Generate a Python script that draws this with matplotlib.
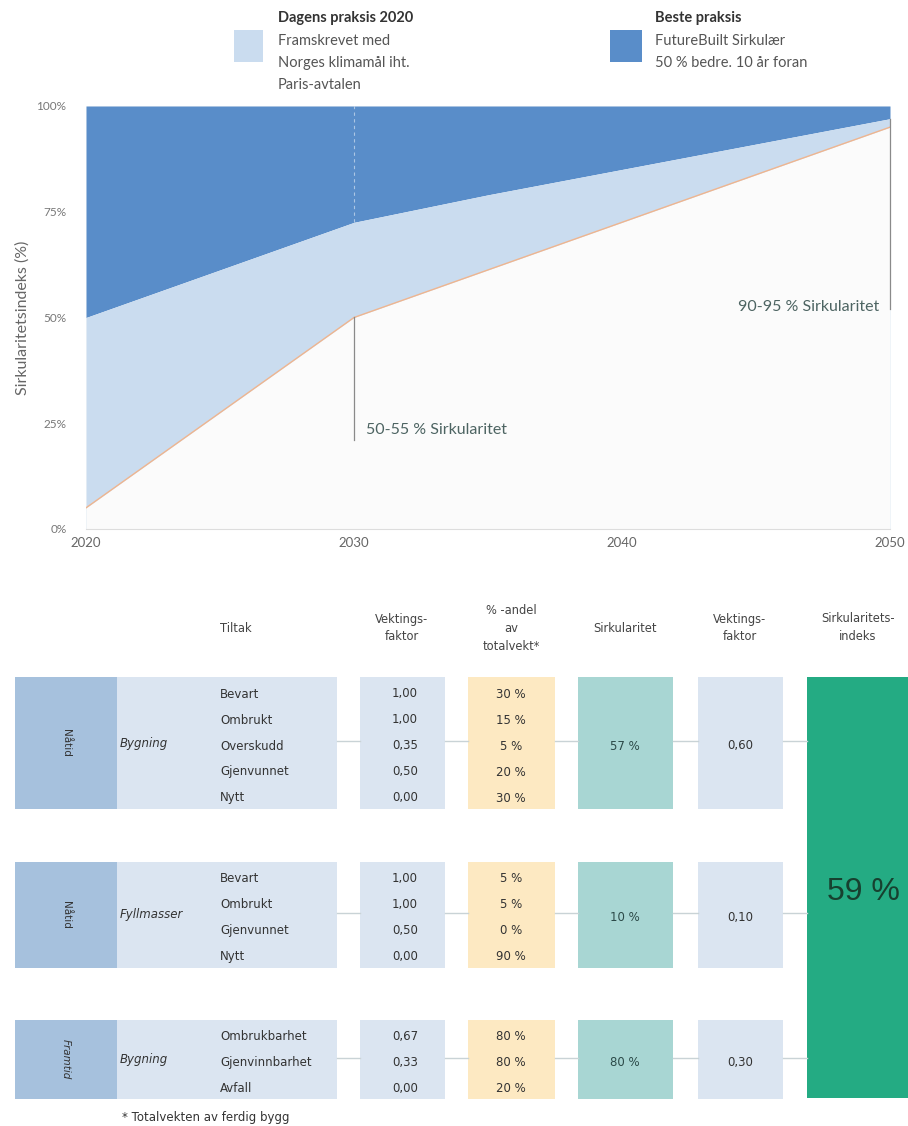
import matplotlib
matplotlib.use("Agg")
import matplotlib.pyplot as plt
from matplotlib.patches import Rectangle

# ---------------- data ----------------
years_best = [2020, 2030, 2035, 2040, 2045, 2050]
best_practice = [50, 72.5, 79, 85, 91, 97]
years_paris = [2020, 2030, 2050]
paris_path = [5, 50, 95]
x_ticks = [2020, 2030, 2040, 2050]
y_ticks = [0, 25, 50, 75, 100]
y_tick_labels = ["0%", "25%", "50%", "75%", "100%"]

period_labels = ["Nåtid", "Nåtid", "Framtid"]
group_labels = ["Bygning", "Fyllmasser", "Bygning"]
measures = [["Bevart", "Ombrukt", "Overskudd", "Gjenvunnet", "Nytt"],
            ["Bevart", "Ombrukt", "Gjenvunnet", "Nytt"],
            ["Ombrukbarhet", "Gjenvinnbarhet", "Avfall"]]
weight_factors = [[1.00, 1.00, 0.35, 0.50, 0.00],
                  [1.00, 1.00, 0.50, 0.00],
                  [0.67, 0.33, 0.00]]
shares = [[30, 15, 5, 20, 30],
          [5, 5, 0, 90],
          [80, 80, 20]]
circularity = [57, 10, 80]
group_weights = [0.60, 0.10, 0.30]
index_total = 59
headers = ["Tiltak", "Vektings-\nfaktor", "% -andel\nav\ntotalvekt*",
           "Sirkularitet", "Vektings-\nfaktor", "Sirkularitets-\nindeks"]

# ---------------- figure ----------------
W, H = 908, 1126
fig = plt.figure(figsize=(W / 100, H / 100), dpi=100)
fig.patch.set_facecolor("white")

DARK = "#598dc9"
LIGHT = "#cadcef"
LOW = "#fbfbfb"
ANN = "#4d6462"
chart_font = ["Lato", "DejaVu Sans"]
tab_font = ["DejaVu Sans"]

# chart axes placed in pixel coords
L, R, T, B = 86, 890, 106, 529
ax = fig.add_axes([L / W, 1 - B / H, (R - L) / W, (B - T) / H])
ax.set_xlim(2020, 2050)
ax.set_ylim(0, 100)
ax.set_facecolor(LOW)
ax.fill_between(years_best, best_practice, 100, color=DARK, lw=0, zorder=1)
ax.fill_between(years_best, 0, best_practice, color=LIGHT, lw=0, zorder=1)
ax.fill_between(years_paris, 0, paris_path, color=LOW, lw=0, zorder=2)
ax.plot(years_paris, paris_path, color="#efb58f", lw=1.0, zorder=3)

# annotations
ax.plot([2030, 2030], [best_practice[1], 100], color="white", lw=0.8,
        ls=(0, (3, 3)), alpha=0.5, zorder=3)
ax.plot([2030, 2030], [21, paris_path[1]], color="#8a8a8a", lw=0.9, zorder=4)
ax.plot([2050, 2050], [52, best_practice[-1]], color="#8a8a8a", lw=0.9, zorder=4,
        clip_on=False)
ax.text(2030.45, 23.5, "50-55 % Sirkularitet", fontsize=11.5, color=ANN,
        family=chart_font, va="center", ha="left")
ax.text(2049.6, 52.5, "90-95 % Sirkularitet", fontsize=11.5, color=ANN,
        family=chart_font, va="center", ha="right")

for s in ["top", "right", "left"]:
    ax.spines[s].set_visible(False)
ax.spines["bottom"].set_color("#dddddd")
ax.set_xticks(x_ticks)
ax.set_xticklabels([str(x) for x in x_ticks], fontsize=9.5, color="#666666", family=chart_font)
ax.set_yticks(y_ticks)
ax.set_yticklabels(y_tick_labels, fontsize=8.5, color="#777777", family=chart_font)
ax.tick_params(length=0, pad=14)
ax.tick_params(axis="x", pad=6)
ax.set_ylabel("Sirkularitetsindeks (%)", fontsize=11.5, color="#666666",
              family=chart_font, labelpad=5)

# ---------------- overlay (legend + table) in pixel coords ----------------
ov = fig.add_axes([0, 0, 1, 1])
ov.set_xlim(0, W)
ov.set_ylim(H, 0)
ov.axis("off")
ov.patch.set_alpha(0)

# legend
ov.add_patch(Rectangle((234, 30), 29, 32, color=LIGHT, lw=0))
ov.text(278, 18, "Dagens praksis 2020", fontsize=10.5, weight="bold", color="#333333",
        family=chart_font, va="center")
for i, line in enumerate(["Framskrevet med", "Norges klimamål iht.", "Paris-avtalen"]):
    ov.text(278, 41 + 22 * i, line, fontsize=10.5, color="#555555", family=chart_font, va="center")
ov.add_patch(Rectangle((610, 30), 32, 32, color=DARK, lw=0))
ov.text(655, 18, "Beste praksis", fontsize=10.5, weight="bold", color="#333333",
        family=chart_font, va="center")
for i, line in enumerate(["FutureBuilt Sirkulær", "50 % bedre. 10 år foran"]):
    ov.text(655, 41 + 22 * i, line, fontsize=10.5, color="#555555", family=chart_font, va="center")

# table headers
header_x = [220, 402, 511, 625, 740, 858]
for hx, htxt in zip(header_x, headers):
    ov.text(hx, 628, htxt, fontsize=8.3, color="#444444", family=tab_font,
            ha="left" if htxt == "Tiltak" else "center", va="center", linespacing=1.5)

# table blocks
block_tops = [677, 862, 1020]
row_h = 26.4
SIDE = "#a6c1dd"
PALE = "#dbe5f1"
YEL = "#fde9c2"
TEAL = "#a8d6d3"
GREEN = "#24ab83"
LINEC = "#c9d3d6"
FS = 8.5

for b in range(3):
    n = len(measures[b])
    top = block_tops[b]
    bot = top + n * row_h
    mid = (top + bot) / 2
    h = bot - top
    ov.add_patch(Rectangle((15, top), 102, h, color=SIDE, lw=0))
    ov.add_patch(Rectangle((117, top), 220, h, color=PALE, lw=0))
    ov.add_patch(Rectangle((360, top), 85, h, color=PALE, lw=0))
    ov.add_patch(Rectangle((468, top), 87, h, color=YEL, lw=0))
    ov.add_patch(Rectangle((578, top), 95, h, color=TEAL, lw=0))
    ov.add_patch(Rectangle((698, top), 85, h, color=PALE, lw=0))
    for x0, x1 in [(337, 360), (445, 468), (555, 578), (673, 698), (783, 807)]:
        ov.plot([x0, x1], [mid - 2, mid - 2], color=LINEC, lw=1)
    ov.text(66, mid, period_labels[b], rotation=270, fontsize=7.5, color="#333333",
            family=tab_font, ha="center", va="center",
            style="italic" if period_labels[b] == "Framtid" else "normal")
    ov.text(120, mid, group_labels[b], fontsize=FS, style="italic", color="#333333",
            family=tab_font, ha="left", va="center")
    for i in range(n):
        yy = mid + 3 + (i - (n - 1) / 2) * 26
        ov.text(220, yy, measures[b][i], fontsize=FS, color="#333333", family=tab_font,
                ha="left", va="center")
        ov.text(418, yy, f"{weight_factors[b][i]:.2f}".replace(".", ","), fontsize=FS,
                color="#333333", family=tab_font, ha="right", va="center")
        ov.text(511, yy, f"{shares[b][i]} %", fontsize=FS, color="#333333",
                family=tab_font, ha="center", va="center")
    ov.text(625, mid + 3, f"{circularity[b]} %", fontsize=FS, color="#2c4a48",
            family=tab_font, ha="center", va="center")
    ov.text(740, mid + 3, f"{group_weights[b]:.2f}".replace(".", ","), fontsize=FS,
            color="#333333", family=tab_font, ha="center", va="center")

# big index box
ov.add_patch(Rectangle((807, 677), 120, 1098 - 677, color=GREEN, lw=0, clip_on=False))
ov.text(863, 892, f"{index_total} %", fontsize=23, color="#17402f",
        family=["Liberation Sans", "DejaVu Sans"], ha="center", va="center")

ov.text(122, 1117, "* Totalvekten av ferdig bygg", fontsize=FS, color="#333333",
        family=tab_font, ha="left", va="center")

fig.savefig("out.png", dpi=100)
